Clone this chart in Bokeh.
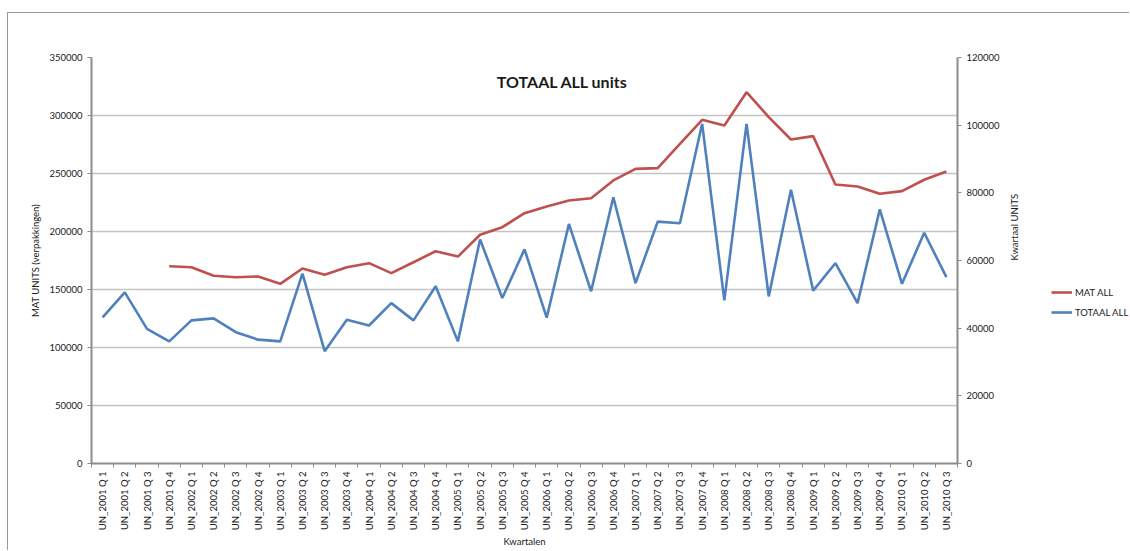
import numpy as np
from bokeh.plotting import figure
from bokeh.layouts import row
from bokeh.models import (Range1d, LinearAxis, FixedTicker, BasicTickFormatter,
                          Legend, LegendItem, Label, ColumnDataSource)
from bokeh.embed import file_html
from bokeh.resources import INLINE

quarters = [
    "UN_2001 Q 1", "UN_2001 Q 2", "UN_2001 Q 3", "UN_2001 Q 4",
    "UN_2002 Q 1", "UN_2002 Q 2", "UN_2002 Q 3", "UN_2002 Q 4",
    "UN_2003 Q 1", "UN_2003 Q 2", "UN_2003 Q 3", "UN_2003 Q 4",
    "UN_2004 Q 1", "UN_2004 Q 2", "UN_2004 Q 3", "UN_2004 Q 4",
    "UN_2005 Q 1", "UN_2005 Q 2", "UN_2005 Q 3", "UN_2005 Q 4",
    "UN_2006 Q 1", "UN_2006 Q 2", "UN_2006 Q 3", "UN_2006 Q 4",
    "UN_2007 Q 1", "UN_2007 Q 2", "UN_2007 Q 3", "UN_2007 Q 4",
    "UN_2008 Q 1", "UN_2008 Q 2", "UN_2008 Q 3", "UN_2008 Q 4",
    "UN_2009 Q 1", "UN_2009 Q 2", "UN_2009 Q 3", "UN_2009 Q 4",
    "UN_2010 Q 1", "UN_2010 Q 2", "UN_2010 Q 3",
]

mat_all = [None, None, None, 170100, 169200, 161800, 160600, 161200, 154900,
           168100, 162700, 169200, 172700, 164100, 173500, 183000, 178400,
           197200, 203700, 215800, 221600, 226700, 228700, 244000, 254000,
           254600, 275600, 296300, 291400, 320100, 298600, 279300, 282200,
           240500, 238800, 232500, 234800, 244600, 251700]

totaal_all = [43200, 50600, 39800, 36100, 42300, 42900, 38800, 36600, 36100,
              56100, 33200, 42500, 40800, 47400, 42300, 52400, 36100, 66200,
              48900, 63300, 43100, 70800, 50900, 78700, 53300, 71500, 71000,
              100400, 48200, 100400, 49400, 80900, 51100, 59200, 47400, 75100,
              53100, 68200, 55100]

series_names = ["MAT ALL", "TOTAAL ALL"]

left_ticks = [0, 50000, 100000, 150000, 200000, 250000, 300000, 350000]
right_ticks = [0, 20000, 40000, 60000, 80000, 100000, 120000]

FONT = "Lato"
TXT = "#1a1a1a"
AXIS_C = "#8c8c8c"
GRID_C = "#c4c4c4"
RED = "#C0504D"
BLUE = "#4F81BD"
H = 537

n = len(quarters)
centers = [i + 0.5 for i in range(n)]
bounds = [float(i) for i in range(n + 1)]

src = ColumnDataSource(dict(
    x=centers,
    mat=np.array([np.nan if v is None else v for v in mat_all], dtype=float),
    tot=np.array(totaal_all, dtype=float),
))

p = figure(width=1040, height=H, x_range=Range1d(0, n),
           y_range=Range1d(left_ticks[0], left_ticks[-1]),
           output_backend="svg", toolbar_location=None,
           min_border_left=83, min_border_right=91,
           min_border_top=44, min_border_bottom=87)
p.extra_y_ranges = {"right": Range1d(right_ticks[0], right_ticks[-1])}
p.outline_line_color = None
p.background_fill_color = "white"
p.border_fill_color = "white"

# grid
p.xgrid.visible = False
p.ygrid.ticker = FixedTicker(ticks=left_ticks)
p.ygrid.grid_line_color = GRID_C
p.ygrid.grid_line_width = 1.6

# left axis
ya = p.yaxis[0]
ya.ticker = FixedTicker(ticks=left_ticks)
ya.formatter = BasicTickFormatter(use_scientific=False)
ya.axis_label = "MAT UNITS (verpakkingen)"

# right axis
yr = LinearAxis(y_range_name="right", ticker=FixedTicker(ticks=right_ticks),
                formatter=BasicTickFormatter(use_scientific=False),
                axis_label="Kwartaal UNITS")
yr.axis_label_orientation = np.pi / 2
yr.axis_label_standoff = 12
p.add_layout(yr, "right")

# bottom axis
xa = p.xaxis[0]
xa.ticker = FixedTicker(ticks=centers, minor_ticks=bounds)
xa.major_label_overrides = {c: q for c, q in zip(centers, quarters)}
xa.major_label_orientation = np.pi / 2
xa.major_tick_out = 0
xa.major_tick_in = 0
xa.minor_tick_out = 4
xa.minor_tick_in = 0
xa.minor_tick_line_color = AXIS_C
xa.axis_label = "Kwartalen"
xa.major_label_standoff = 4
xa.axis_label_standoff = 3

for ax in (ya, yr):
    ax.major_tick_out = 4
    ax.major_tick_in = 0
    ax.minor_tick_line_color = None
    ax.major_label_standoff = 5

for ax in (xa, ya, yr):
    ax.axis_line_color = AXIS_C
    ax.axis_line_width = 2
    ax.major_tick_line_color = AXIS_C
    ax.major_label_text_font = FONT
    ax.major_label_text_font_size = "9.5px"
    ax.major_label_text_color = TXT
    ax.axis_label_text_font = FONT
    ax.axis_label_text_font_size = "9.5px"
    ax.axis_label_text_font_style = "normal"
    ax.axis_label_text_color = TXT

p.line("x", "mat", source=src, line_color=RED, line_width=2.6)
p.line("x", "tot", source=src, line_color=BLUE, line_width=2.6,
       y_range_name="right")

title = Label(x=471, y=382, x_units="screen", y_units="screen",
              text="TOTAAL ALL units", text_font=FONT, text_font_size="16px",
              text_font_style="bold", text_color=TXT, text_align="center",
              text_baseline="middle")
p.add_layout(title)

# legend panel (separate narrow figure to the right of the chart)
lp = figure(width=81, height=H, x_range=Range1d(0, 1), y_range=Range1d(-2, -1),
            output_backend="svg", toolbar_location=None,
            x_axis_location=None, y_axis_location=None,
            min_border=0, min_border_left=0, min_border_right=0,
            min_border_top=0, min_border_bottom=0)
lp.outline_line_color = None
lp.background_fill_color = "white"
lp.border_fill_color = "white"
lp.xgrid.visible = False
lp.ygrid.visible = False
# same series; ranges keep them out of view, they only feed the legend swatches
lg_mat = lp.line("x", "mat", source=src, line_color=RED, line_width=2.6)
lg_tot = lp.line("x", "tot", source=src, line_color=BLUE, line_width=2.6)

legend = Legend(items=[LegendItem(label=series_names[0], renderers=[lg_mat]),
                       LegendItem(label=series_names[1], renderers=[lg_tot])],
                location=(3, 145), orientation="vertical")
legend.label_text_font = FONT
legend.label_text_font_size = "9.5px"
legend.label_text_color = TXT
legend.glyph_width = 21
legend.glyph_height = 12
legend.label_height = 12
legend.label_standoff = 3
legend.spacing = 8
legend.padding = 0
legend.margin = 0
legend.border_line_color = None
legend.background_fill_alpha = 0
lp.add_layout(legend, "center")

layout = row(p, lp, spacing=0,
             styles={"margin-left": "7px", "margin-top": "12px",
                     "border-left": "1.5px solid #9a9a9a",
                     "border-top": "1.5px solid #9a9a9a"})
open("out.html", "w").write(file_html(layout, INLINE))
